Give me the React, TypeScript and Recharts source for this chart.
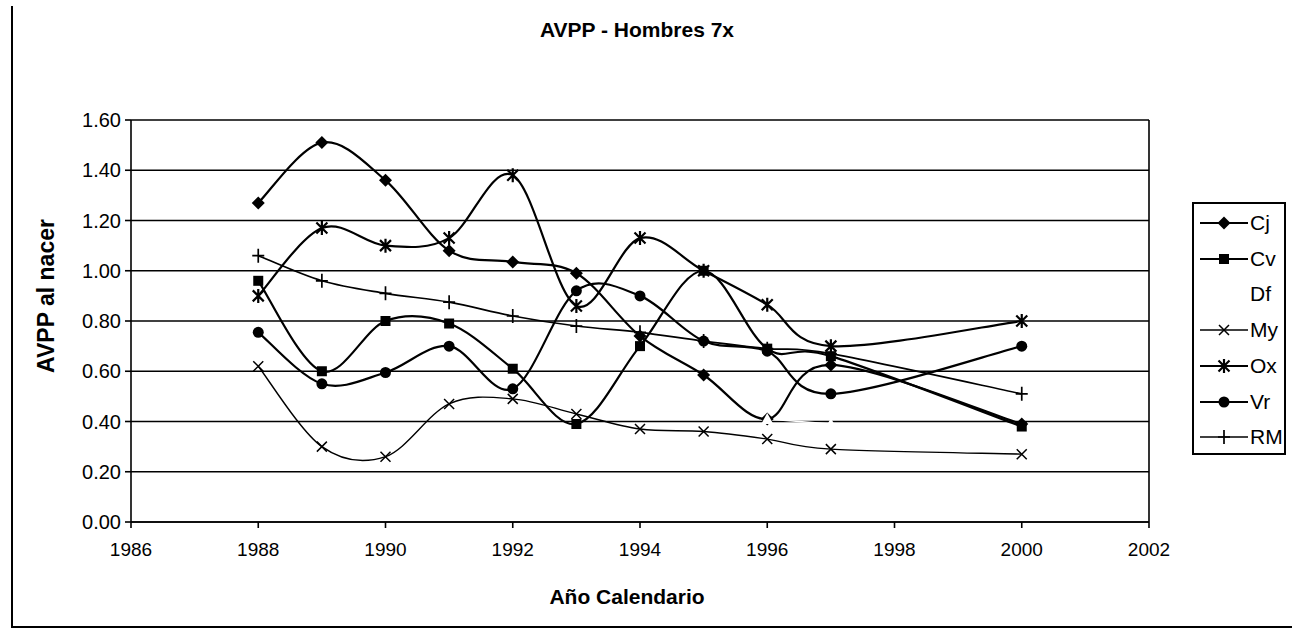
import React from "react";
import { LineChart, Line, XAxis, YAxis, CartesianGrid, ReferenceLine } from "recharts";

const years = [1988, 1989, 1990, 1991, 1992, 1993, 1994, 1995, 1996, 1997, 2000];
const cj = [1.27, 1.51, 1.36, 1.08, 1.035, 0.99, 0.74, 0.585, 0.41, 0.625, 0.39];
const cv = [0.96, 0.6, 0.8, 0.79, 0.61, 0.39, 0.7, 1.0, 0.69, 0.66, 0.38];
const df = [null, null, null, null, null, null, null, null, 0.41, 0.39, null];
const my = [0.62, 0.3, 0.26, 0.47, 0.49, 0.43, 0.37, 0.36, 0.33, 0.29, 0.27];
const ox = [0.9, 1.17, 1.1, 1.13, 1.38, 0.86, 1.13, 1.0, 0.865, 0.7, 0.8];
const vr = [0.755, 0.55, 0.595, 0.7, 0.53, 0.92, 0.9, 0.72, 0.68, 0.51, 0.7];
const rm = [1.06, 0.96, 0.91, 0.875, 0.82, 0.78, 0.755, 0.72, 0.69, 0.67, 0.51];

const xTicks = [1986, 1988, 1990, 1992, 1994, 1996, 1998, 2000, 2002];
const yTicks = [0, 0.2, 0.4, 0.6, 0.8, 1.0, 1.2, 1.4, 1.6];

const series = [
  { key: "Cj", values: cj, shape: "diamond", color: "#000", width: 2.2 },
  { key: "Cv", values: cv, shape: "square", color: "#000", width: 2.2 },
  { key: "Df", values: df, shape: "triangle", color: "#fff", width: 1.5 },
  { key: "My", values: my, shape: "x", color: "#000", width: 1.4 },
  { key: "Ox", values: ox, shape: "star", color: "#000", width: 2.2 },
  { key: "Vr", values: vr, shape: "circle", color: "#000", width: 2.2 },
  { key: "RM", values: rm, shape: "plus", color: "#000", width: 1.7 },
];

const rows = years.map((year, i) => {
  const row: any = { year };
  series.forEach((s) => (row[s.key] = s.values[i]));
  return row;
});

const FONT = "'Liberation Sans', Arial, sans-serif";

// excel-like smoothing (catmull-rom through the points)
const smooth: any = (context: any) => {
  let pts: number[][] = [];
  return {
    areaStart() {},
    areaEnd() {},
    lineStart() {
      pts = [];
    },
    lineEnd() {
      const n = pts.length;
      if (!n) return;
      context.moveTo(pts[0][0], pts[0][1]);
      for (let i = 0; i < n - 1; i++) {
        const p0 = pts[Math.max(0, i - 1)];
        const p1 = pts[i];
        const p2 = pts[i + 1];
        const p3 = pts[Math.min(n - 1, i + 2)];
        context.bezierCurveTo(
          p1[0] + (p2[0] - p0[0]) / 6,
          p1[1] + (p2[1] - p0[1]) / 6,
          p2[0] - (p3[0] - p1[0]) / 6,
          p2[1] - (p3[1] - p1[1]) / 6,
          p2[0],
          p2[1]
        );
      }
    },
    point(x: number, y: number) {
      pts.push([+x, +y]);
    },
  };
};

function Marker({ shape, cx, cy, color }: { shape: string; cx: number; cy: number; color: string }) {
  switch (shape) {
    case "diamond":
      return <polygon points={`${cx},${cy - 6.5} ${cx + 6.5},${cy} ${cx},${cy + 6.5} ${cx - 6.5},${cy}`} fill={color} />;
    case "square":
      return <rect x={cx - 5} y={cy - 5} width={10} height={10} fill={color} />;
    case "triangle":
      return <polygon points={`${cx},${cy - 6} ${cx + 6},${cy + 5} ${cx - 6},${cy + 5}`} fill={color} />;
    case "x":
      return (
        <path d={`M${cx - 5},${cy - 5}L${cx + 5},${cy + 5}M${cx + 5},${cy - 5}L${cx - 5},${cy + 5}`} stroke={color} strokeWidth={1.5} />
      );
    case "star":
      return (
        <path
          d={`M${cx - 5.5},${cy - 5.5}L${cx + 5.5},${cy + 5.5}M${cx + 5.5},${cy - 5.5}L${cx - 5.5},${cy + 5.5}M${cx},${cy - 7}L${cx},${cy + 7}`}
          stroke={color}
          strokeWidth={2.2}
        />
      );
    case "circle":
      return <circle cx={cx} cy={cy} r={5.5} fill={color} />;
    case "plus":
      return <path d={`M${cx - 6},${cy}L${cx + 6},${cy}M${cx},${cy - 7}L${cx},${cy + 7}`} stroke={color} strokeWidth={1.7} />;
    default:
      return null;
  }
}

const makeDot = (shape: string, color: string) => (props: any) => {
  const { cx, cy, index, value } = props;
  if (value == null || cx == null || cy == null || isNaN(cy)) return <g key={index} />;
  return (
    <g key={index}>
      <Marker shape={shape} cx={cx} cy={cy} color={color} />
    </g>
  );
};

export default function App() {
  return (
    <div style={{ position: "fixed", left: 0, top: 0, width: 1292, height: 632, background: "#fff", fontFamily: FONT }}>
      <div
        style={{
          position: "absolute",
          left: 11,
          top: 6,
          width: 1290,
          height: 620,
          borderLeft: "2px solid #000",
          borderBottom: "2px solid #000",
        }}
      />
      <div style={{ position: "absolute", left: 0, width: 1274, top: 18, textAlign: "center", fontWeight: "bold", fontSize: 21 }}>
        AVPP - Hombres 7x
      </div>
      <div style={{ position: "absolute", left: 0, width: 1254, top: 585, textAlign: "center", fontWeight: "bold", fontSize: 21 }}>
        Año Calendario
      </div>
      <div
        style={{
          position: "absolute",
          left: 46,
          top: 296,
          transform: "translate(-50%, -50%) rotate(-90deg)",
          whiteSpace: "nowrap",
          fontWeight: "bold",
          fontSize: 23,
        }}
      >
        AVPP al nacer
      </div>
      <LineChart width={1292} height={632} data={rows} margin={{ top: 120, right: 143, bottom: 70, left: 71 }} style={{ position: "absolute", left: 0, top: 0 }}>
        <CartesianGrid vertical={false} stroke="#000" strokeWidth={1.6} />
        <XAxis
          type="number"
          dataKey="year"
          domain={[1986, 2002]}
          ticks={xTicks}
          height={40}
          stroke="#000"
          strokeWidth={1.6}
          tickSize={6}
          tickMargin={15}
          tick={{ fill: "#000", fontSize: 19, fontFamily: FONT }}
        />
        <YAxis
          type="number"
          domain={[0, 1.6]}
          ticks={yTicks}
          width={60}
          stroke="#000"
          strokeWidth={1.6}
          tickSize={6}
          tickMargin={4}
          tickFormatter={(v: number) => v.toFixed(2)}
          tick={{ fill: "#000", fontSize: 20, fontFamily: FONT }}
        />
        <ReferenceLine x={2002} stroke="#000" strokeWidth={1.6} />
        {series.map((s) => (
          <Line
            key={s.key}
            dataKey={s.key}
            type={smooth}
            stroke={s.color}
            strokeWidth={s.width}
            dot={makeDot(s.shape, s.color)}
            activeDot={false}
            connectNulls={false}
            isAnimationActive={false}
          />
        ))}
      </LineChart>
      <div
        style={{
          position: "absolute",
          left: 1192,
          top: 202,
          width: 90,
          height: 249,
          border: "2px solid #000",
          background: "#fff",
        }}
      >
        {series.map((s, i) => (
          <div key={s.key} style={{ position: "absolute", left: 0, top: 4 + i * 35.7, height: 30, display: "flex", alignItems: "center" }}>
            <svg width={56} height={30}>
              <line x1={6} y1={15} x2={54} y2={15} stroke={s.color} strokeWidth={s.width} />
              <Marker shape={s.shape} cx={30} cy={15} color={s.color} />
            </svg>
            <span style={{ fontSize: 21 }}>{s.key}</span>
          </div>
        ))}
      </div>
    </div>
  );
}
